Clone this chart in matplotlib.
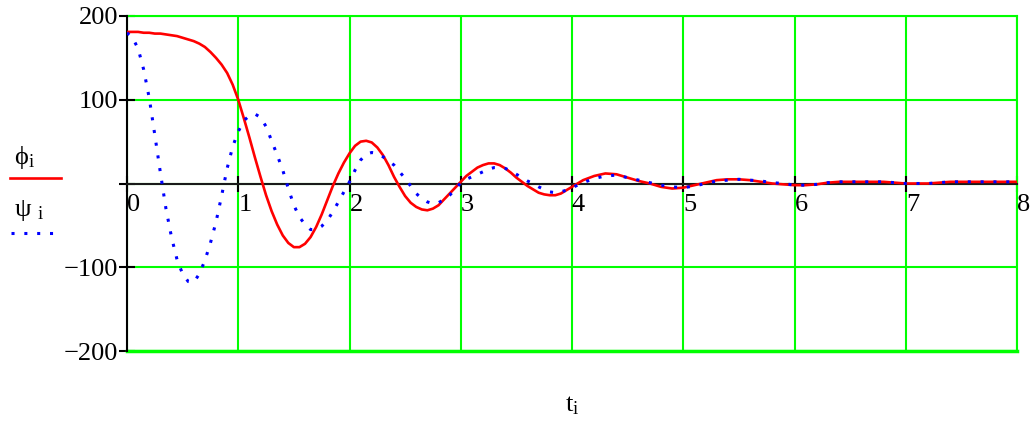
import numpy as np
import matplotlib.pyplot as plt
from matplotlib.lines import Line2D

# values: step 0.05 up to t=4, then step 0.1
t = [round(0.05 * k, 2) for k in range(81)] + [round(4 + 0.1 * k, 1) for k in range(1, 41)]

phi = [181, 181, 181, 180, 180, 179, 179, 178, 177, 176,
       174, 172, 170, 167, 163, 157, 150, 142, 132, 118,
       100, 78, 55, 31, 8, -14, -33, -49, -62, -71,
       -76, -76, -72, -64, -52, -37, -20, -3, 12, 25,
       36, 45, 50, 51, 49, 43, 34, 22, 8, -4,
       -15, -23, -28, -31, -32, -30, -26, -19, -12, -5,
       2, 9, 14, 19, 22, 24, 24, 22, 18, 13,
       7, 2, -3, -7, -11, -13, -14, -14, -12, -8,
       -4,
       # t = 4.1 .. 8.0
       4, 9, 12, 11, 7, 3, 0, -4, -6, -5,
       -2, 1, 4, 5, 5, 4, 2, 0, -1, -2,
       -2, -1, 1, 2, 2, 2, 2, 2, 1, 0,
       0, 0, 1, 2, 2, 2, 2, 2, 2, 2]

psi = [180, 174, 161, 136, 102, 58, 13, -30, -64, -91,
       -108, -117, -118, -108, -92, -71, -46, -15, 18, 44,
       62, 75, 81, 83, 79, 68, 51, 34, 16, -6,
       -26, -40, -49, -55, -55, -51, -44, -34, -22, -10,
       2, 16, 28, 35, 37, 36, 32, 27, 22, 14,
       6, -3, -12, -18, -22, -24, -23, -19, -14, -7,
       1, 5, 8, 11, 14, 17, 19, 19, 18, 15,
       11, 7, 3, 0, -4, -7, -10, -11, -10, -8,
       -5,
       # t = 4.1 .. 8.0
       1, 6, 9, 10, 7, 4, 1, -2, -4, -5,
       -3, 0, 3, 4, 5, 4, 3, 1, 0, -2,
       -2, -1, 1, 2, 2, 2, 2, 2, 1, 0,
       0, 0, 1, 2, 2, 2, 2, 2, 2, 2]

x_ticks = list(range(9))
y_ticks = [-200, -100, 0, 100, 200]
y_labels = ['\u2212200', '\u2212100', '', '100', '200']

plt.rcParams['font.family'] = ['Liberation Serif', 'DejaVu Serif']
plt.rcParams['mathtext.fontset'] = 'custom'
plt.rcParams['mathtext.rm'] = 'Liberation Serif'
plt.rcParams['mathtext.it'] = 'Liberation Serif'

GREEN = '#00ff00'

fig = plt.figure(figsize=(10.33, 4.25), dpi=100)
ax = fig.add_axes([127 / 1033, 1 - 351 / 425, 890 / 1033, 335 / 425])

ax.plot(t, phi, color='#ff0000', lw=1.9, zorder=4)
ax.plot(t, psi, color='#0000ff', lw=2.2, linestyle=(0, (1, 3.2)), zorder=5)

ax.set_xlim(0, 8)
ax.set_ylim(-200, 200)
ax.set_xticks(x_ticks)
ax.set_yticks(y_ticks)
ax.set_yticklabels(y_labels)

ax.grid(True, color=GREEN, lw=1.5)
ax.set_axisbelow(True)
ax.axhline(-200, color=GREEN, lw=2.5, clip_on=False, zorder=1)

for s in ['top', 'right']:
    ax.spines[s].set_color(GREEN)
    ax.spines[s].set_linewidth(1.5)
ax.spines['left'].set_color('black')
ax.spines['left'].set_linewidth(1.5)
ax.spines['left'].set_zorder(3)
ax.spines['bottom'].set_position(('data', 0))
ax.spines['bottom'].set_color('#1a1a1a')
ax.spines['bottom'].set_linewidth(1.5)
ax.spines['bottom'].set_zorder(3)

ax.tick_params(axis='both', direction='inout', length=11, width=1.5,
               labelsize=19, colors='black')
ax.tick_params(axis='x', pad=2)
ax.tick_params(axis='y', pad=1)
for lab in ax.get_xticklabels():
    lab.set_horizontalalignment('left')

ax.set_xlabel(r'$\mathrm{t}_\mathrm{i}$', fontsize=19, labelpad=0)
ax.xaxis.set_label_coords(0.5, -0.13)

# legend on the left
fig.text(14 / 1033, 1 - 164 / 425, r'$\mathrm{ϕ}_\mathrm{i}$', fontsize=19)
fig.add_artist(Line2D([10 / 1033, 61 / 1033], [1 - 178 / 425] * 2,
                      color='#ff0000', lw=1.9))
fig.text(14 / 1033, 1 - 216 / 425, r'$\mathrm{ψ}\ _\mathrm{i}$', fontsize=19)
fig.add_artist(Line2D([11 / 1033, 62 / 1033], [1 - 233 / 425] * 2,
                      color='#0000ff', lw=2.2, linestyle=(0, (1, 3.2))))

fig.savefig('out.png', dpi=100)
